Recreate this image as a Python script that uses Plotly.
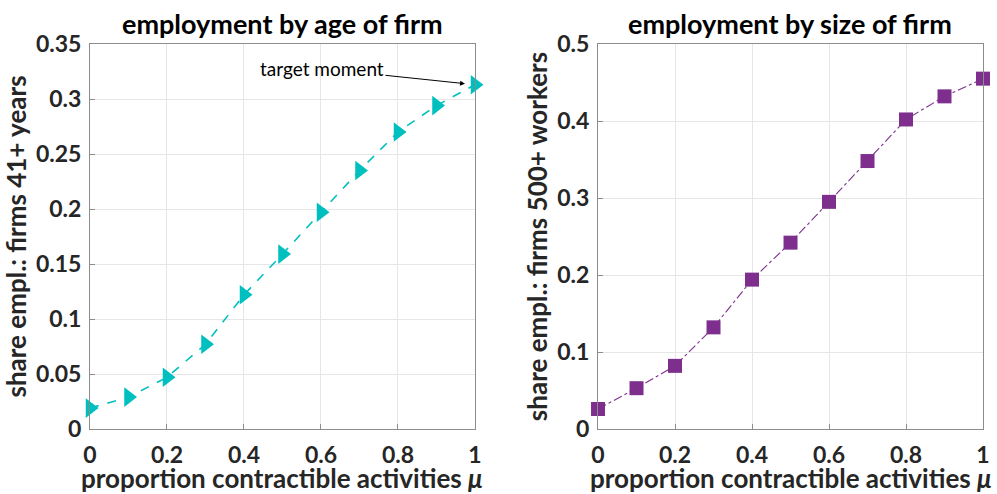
'''
    Employment share of old firms and large firms against the
    proportion of contractible activities (two panels).
'''

import plotly.graph_objects as go
from plotly.subplots import make_subplots

mu = [0, 0.1, 0.2, 0.3, 0.4, 0.5, 0.6, 0.7, 0.8, 0.9, 1]
share_old = [0.019, 0.029, 0.047, 0.077, 0.122, 0.159, 0.197, 0.235, 0.270, 0.294, 0.313]
share_large = [0.026, 0.053, 0.082, 0.132, 0.194, 0.242, 0.295, 0.348, 0.402, 0.432, 0.455]

x_ticks = [0, 0.2, 0.4, 0.6, 0.8, 1]
x_ticklabels = ['0', '0.2', '0.4', '0.6', '0.8', '1']
y1_ticks = [0, 0.05, 0.1, 0.15, 0.2, 0.25, 0.3, 0.35]
y1_ticklabels = ['0', '0.05', '0.1', '0.15', '0.2', '0.25', '0.3', '0.35']
y2_ticks = [0, 0.1, 0.2, 0.3, 0.4, 0.5]
y2_ticklabels = ['0', '0.1', '0.2', '0.3', '0.4', '0.5']

FONT = 'Lato'
TXT = '#262626'
AXIS = '#8c8c8c'
GRID = '#e6e6e6'

fig = make_subplots(rows=1, cols=2, horizontal_spacing=0.1378)

fig.add_trace(go.Scatter(
    x=mu, y=share_old,
    mode='lines+markers',
    line=dict(color='#00bfbf', width=1.6, dash='dash'),
    marker=dict(symbol='triangle-right', size=17, color='#00bfbf'),
    showlegend=False, cliponaxis=False),
    row=1, col=1
)
fig.add_trace(go.Scatter(
    x=mu, y=share_large,
    mode='lines+markers',
    line=dict(color='#7e2f8e', width=1.1, dash='dashdot'),
    marker=dict(symbol='square', size=14, color='#7e2f8e'),
    showlegend=False, cliponaxis=False),
    row=1, col=2
)

axis_common = dict(
    showline=True, mirror=True, linecolor=AXIS, linewidth=1,
    ticks='inside', ticklen=5, tickcolor=AXIS,
    showgrid=True, gridcolor=GRID, gridwidth=1,
    zeroline=False, automargin=False,
    tickfont=dict(family=FONT, size=23, color=TXT, weight='bold'),
)
title_font = dict(family=FONT, size=26, color=TXT, weight='bold')

for c in (1, 2):
    fig.update_xaxes(
        range=[0, 1], tickvals=x_ticks, ticktext=x_ticklabels,
        ticklabelstandoff=5,
        row=1, col=c, **axis_common)
    # x-axis title placed by hand
    fig.add_annotation(
        text='proportion contractible activities <i>μ</i>',
        xref='x domain' if c == 1 else 'x2 domain', yref='paper',
        x=0.5, y=-0.127, xanchor='center', yanchor='middle',
        showarrow=False, font=title_font)

fig.update_yaxes(
    range=[0, 0.35], tickvals=y1_ticks, ticktext=y1_ticklabels,
    ticklabelstandoff=3,
    title=dict(text='share empl.: firms 41+ years', font=title_font, standoff=2),
    row=1, col=1, **axis_common)
fig.update_yaxes(
    range=[0, 0.5], tickvals=y2_ticks, ticktext=y2_ticklabels,
    ticklabelstandoff=3,
    title=dict(text='share empl.: firms 500+ workers', font=title_font, standoff=2),
    row=1, col=2, **axis_common)

# panel titles
for xc, txt in ((0.2156, 'employment by age of firm'), (0.7844, 'employment by size of firm')):
    fig.add_annotation(
        text=txt, xref='paper', yref='paper', x=xc, y=1.0,
        xanchor='center', yanchor='bottom',
        showarrow=False, yshift=2,
        font=dict(family=FONT, size=27, color='black', weight='bold'))

# overall title, mostly above the page edge
fig.add_annotation(
    text='Share of employment by age and size of firm',
    xref='paper', yref='paper', x=0.462, y=1.1075,
    xanchor='center', yanchor='bottom',
    showarrow=False,
    font=dict(family=FONT, size=28, color='black', weight='bold'))

# target moment arrow
fig.add_annotation(
    text='target moment', x=1, y=share_old[-1], xref='x', yref='y',
    ax=-153, ay=-16, showarrow=True,
    arrowhead=2, arrowsize=1, arrowwidth=1, arrowcolor='black', standoff=10,
    font=dict(family=FONT, size=19, color='black'))

fig.update_layout(
    width=997, height=494,
    margin=dict(l=90, r=14, t=44, b=65),
    paper_bgcolor='white', plot_bgcolor='white',
)

# drop the default page margin so the figure sits at the window corner
fig.write_html('out.html', config={'displayModeBar': False},
               post_script="document.body.style.margin='0';")
